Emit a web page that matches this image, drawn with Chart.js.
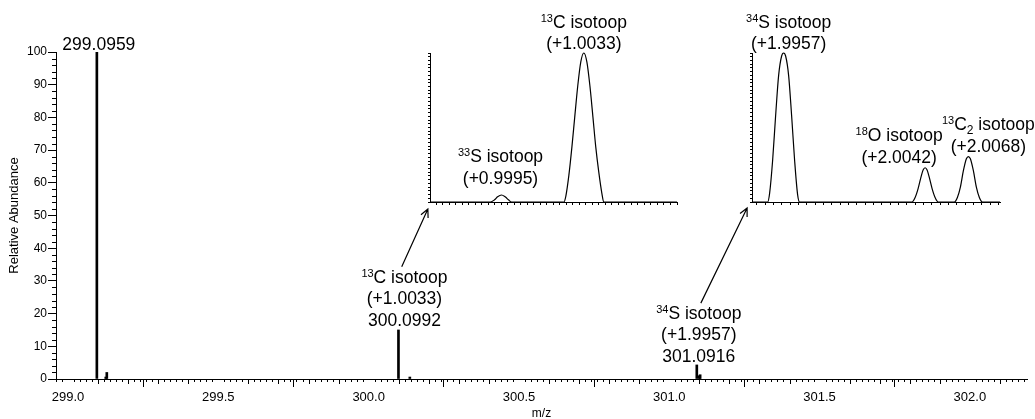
<!DOCTYPE html>
<html>
<head>
<meta charset="utf-8">
<script src="https://cdn.jsdelivr.net/npm/chart.js@4.4.1/dist/chart.umd.min.js"></script>
<style>
  body { margin: 0; background: #fff; overflow: hidden; }
  #wrap { position: relative; width: 1035px; height: 419px; }
  canvas { position: absolute; }
</style>
</head>
<body>
<div id="wrap">
  <canvas id="main" width="1035" height="419" style="left:0;top:0"></canvas>
  <canvas id="inset1" width="280" height="212" style="left:420px;top:0"></canvas>
  <canvas id="inset2" width="295" height="212" style="left:740px;top:0"></canvas>
</div>
<script>
// centroid spectrum
const mainMz = [299.0959, 299.1255, 299.1290, 300.0992, 300.1370, 301.0916, 301.1001, 301.1027]
const mainAbund = [100, 0.6, 2.0, 15.0, 0.6, 4.3, 1.0, 1.3]
const xTicks = [299.0, 299.5, 300.0, 300.5, 301.0, 301.5, 302.0]
const yTicks = [0, 10, 20, 30, 40, 50, 60, 70, 80, 90, 100]

// zoom 1: 33S + 13C profile
const inset1Mz = [300.0921,
  300.09489, 300.09508, 300.09522, 300.09540, 300.09558, 300.09572, 300.09586,
  300.09828, 300.09837, 300.09851, 300.09865, 300.09878, 300.09892, 300.09906, 300.09920,
  300.09934, 300.09948, 300.09962, 300.09975, 300.09989, 300.10003, 300.10012,
  300.1035]
const inset1Abund = [0,
  0, 1.5, 3.5, 4.7, 3.3, 1.5, 0,
  0, 4, 18, 37, 57, 78, 94, 100,
  94, 78, 57, 37, 20, 6, 0,
  0]

// zoom 2: 34S, 18O, 13C2 profile
const inset2Mz = [301.0897,
  301.09064, 301.09076, 301.09094, 301.09112, 301.09130, 301.09148, 301.09160,
  301.09172, 301.09190, 301.09208, 301.09226, 301.09244, 301.09256,
  301.09932, 301.09950, 301.09968, 301.09986, 301.09998, 301.10010,
  301.10022, 301.10034, 301.10052, 301.10070, 301.10088,
  301.10186, 301.10204, 301.10222, 301.10240, 301.10258, 301.10270,
  301.10282, 301.10300, 301.10318, 301.10336, 301.10354,
  301.1046]
const inset2Abund = [0,
  0, 6, 28, 58, 85, 98, 100,
  98, 85, 58, 28, 5, 0,
  0, 3, 9, 17, 21.5, 23,
  21.5, 17, 9, 3, 0,
  0, 3, 10, 21, 29, 30.5,
  29, 21, 10, 3, 0,
  0]

const FONT = '"Liberation Sans", Arial, sans-serif'
Chart.defaults.font.family = FONT
Chart.defaults.color = '#000'

function segFont(kind) {
  if (kind === 'sup') return '11px ' + FONT
  if (kind === 'sub') return '12px ' + FONT
  return '17.5px ' + FONT
}

function drawRich(ctx, segs, cx, y) {
  let w = 0
  segs.forEach(s => { ctx.font = segFont(s[1]); w += ctx.measureText(s[0]).width })
  let x = cx - w / 2
  segs.forEach(s => {
    ctx.font = segFont(s[1])
    const dy = s[1] === 'sup' ? -6 : s[1] === 'sub' ? 4 : 0
    ctx.fillText(s[0], x, y + dy)
    x += ctx.measureText(s[0]).width
  })
}

// peak labels + arrows, anchored on data values
const peakLabels = {
  id: 'peakLabels',
  afterDraw(chart, args, opts) {
    const {ctx, scales: {x, y}} = chart
    ctx.save()
    ctx.fillStyle = '#000'
    ctx.textAlign = 'left'
    ctx.textBaseline = 'alphabetic'
    ;(opts.labels || []).forEach(l => {
      const px = x.getPixelForValue(l.mz) + l.dx
      let py = y.getPixelForValue(l.ab) - l.gap
      for (let i = l.lines.length - 1; i >= 0; i--) {
        drawRich(ctx, l.lines[i], px, py)
        py -= 21.5
      }
    })
    ctx.strokeStyle = '#000'
    ctx.lineWidth = 1.2
    ;(opts.arrows || []).forEach(a => {
      const x0 = x.getPixelForValue(a.from[0]), y0 = y.getPixelForValue(a.from[1])
      const x1 = x.getPixelForValue(a.to[0]), y1 = y.getPixelForValue(a.to[1])
      const ang = Math.atan2(y1 - y0, x1 - x0)
      ctx.beginPath()
      ctx.moveTo(x0, y0); ctx.lineTo(x1, y1)
      ctx.moveTo(x1 - 9 * Math.cos(ang - 0.45), y1 - 9 * Math.sin(ang - 0.45))
      ctx.lineTo(x1, y1)
      ctx.lineTo(x1 - 9 * Math.cos(ang + 0.45), y1 - 9 * Math.sin(ang + 0.45))
      ctx.stroke()
    })
    ctx.restore()
  }
}

// minor tick marks on the main axes
const minorTicks = {
  id: 'minorTicks',
  afterDraw(chart) {
    const {ctx, scales: {x, y}} = chart
    ctx.save()
    ctx.strokeStyle = '#000'
    ctx.lineWidth = 1
    ctx.beginPath()
    for (let k = Math.ceil(x.min * 50 - 1e-6); k <= Math.floor(x.max * 50 + 1e-6); k++) {
      if (k % 25 === 0) continue
      const px = Math.round(x.getPixelForValue(k / 50)) + 0.5
      const len = k % 5 === 0 ? 5 : 3
      ctx.moveTo(px, y.bottom); ctx.lineTo(px, y.bottom + len)
    }
    for (let k = 0; k <= 50; k++) {
      if (k % 5 === 0) continue
      const py = Math.round(y.getPixelForValue(k * 2)) + 0.5
      ctx.moveTo(x.left, py); ctx.lineTo(x.left - 4, py)
    }
    ctx.stroke()
    ctx.restore()
  }
}

const blackGrid = len => ({ display: true, drawOnChartArea: false, drawTicks: true, tickLength: len, color: '#000', lineWidth: 1 })
const blackBorder = { display: true, color: '#000', width: 1 }

new Chart(document.getElementById('main'), {
  type: 'bar',
  data: {
    datasets: [{
      data: mainMz.map((m, i) => ({ x: m, y: mainAbund[i] })),
      backgroundColor: '#000',
      borderWidth: 0,
      barThickness: 2,
      grouped: false
    }]
  },
  plugins: [minorTicks, peakLabels],
  options: {
    responsive: false,
    animation: false,
    devicePixelRatio: 1,
    layout: { padding: { top: 52, right: 8, left: 0, bottom: 0 } },
    plugins: {
      legend: { display: false },
      tooltip: { enabled: false },
      peakLabels: {
        labels: [
          { mz: 299.0959, ab: 100, dx: 2, gap: 2, lines: [[['299.0959']]] },
          { mz: 300.0992, ab: 15.0, dx: 6, gap: 4, lines: [[['13', 'sup'], ['C isotoop']], [['(+1.0033)']], [['300.0992']]] },
          { mz: 301.0916, ab: 4.3, dx: 2, gap: 3, lines: [[['34', 'sup'], ['S isotoop']], [['(+1.9957)']], [['301.0916']]] }
        ],
        arrows: [
          { from: [300.110, 34.3], to: [300.197, 52.0] },
          { from: [301.105, 23.2], to: [301.259, 52.3] }
        ]
      }
    },
    scales: {
      x: {
        type: 'linear',
        offset: false,
        min: 298.96,
        max: 302.19,
        afterBuildTicks: s => { s.ticks = xTicks.map(v => ({ value: v })) },
        afterFit: s => { s.height = 40 },
        grid: blackGrid(8),
        border: blackBorder,
        ticks: { font: { size: 13 }, padding: 3, maxRotation: 0, autoSkip: false, callback: v => v.toFixed(1) },
        title: { display: true, text: 'm/z', font: { size: 12 }, padding: { top: 0, bottom: -2 } }
      },
      y: {
        min: 0,
        max: 100,
        afterBuildTicks: s => { s.ticks = yTicks.map(v => ({ value: v })) },
        afterFit: s => { s.width = 56 },
        grid: blackGrid(8),
        border: blackBorder,
        ticks: { font: { size: 12 }, padding: 1 },
        title: { display: true, text: 'Relative Abundance', font: { size: 13 }, padding: { top: 7, bottom: 0 } }
      }
    }
  }
})

function makeInset(id, mz, ab, xmin, xmax, xstep, yWidth, padRight, labels) {
  return new Chart(document.getElementById(id), {
    type: 'line',
    data: {
      datasets: [{
        data: mz.map((m, i) => ({ x: m, y: ab[i] })),
        borderColor: '#000',
        borderWidth: 1.2,
        pointRadius: 0,
        fill: false,
        cubicInterpolationMode: 'monotone',
        clip: false
      }]
    },
    plugins: [peakLabels],
    options: {
      responsive: false,
      animation: false,
      devicePixelRatio: 1,
      layout: { padding: { top: 53, right: padRight, left: 0, bottom: 0 } },
      plugins: { legend: { display: false }, tooltip: { enabled: false }, peakLabels: { labels } },
      scales: {
        x: {
          type: 'linear',
          min: xmin,
          max: xmax,
          afterBuildTicks: s => {
            const t = []
            for (let k = Math.ceil(xmin / xstep); k * xstep <= xmax; k++) t.push({ value: k * xstep })
            s.ticks = t
          },
          afterFit: s => { s.height = 10 },
          grid: blackGrid(3),
          border: blackBorder,
          ticks: { display: false }
        },
        y: {
          min: 0,
          max: 100,
          afterBuildTicks: s => {
            const t = []
            for (let k = 0; k <= 40; k++) t.push({ value: k * 2.5 })
            s.ticks = t
          },
          afterFit: s => { s.width = yWidth },
          grid: blackGrid(2),
          border: blackBorder,
          ticks: { display: false }
        }
      }
    }
  })
}

makeInset('inset1', inset1Mz, inset1Abund, 300.0921, 300.1035, 0.0003, 10, 23, [
  { mz: 300.0992, ab: 100, dx: 0, gap: 4, lines: [[['13', 'sup'], ['C isotoop']], [['(+1.0033)']]] },
  { mz: 300.0954, ab: 4.7, dx: -1, gap: 11, lines: [[['33', 'sup'], ['S isotoop']], [['(+0.9995)']]] }
])

makeInset('inset2', inset2Mz, inset2Abund, 301.0897, 301.1046, 0.0005, 12, 35, [
  { mz: 301.0916, ab: 100, dx: 5, gap: 4, lines: [[['34', 'sup'], ['S isotoop']], [['(+1.9957)']]] },
  { mz: 301.1001, ab: 23, dx: -26, gap: 5, lines: [[['18', 'sup'], ['O isotoop']], [['(+2.0042)']]] },
  { mz: 301.1027, ab: 30.5, dx: 20, gap: 5, lines: [[['13', 'sup'], ['C'], ['2', 'sub'], [' isotoop']], [['(+2.0068)']]] }
])
</script>
</body>
</html>
